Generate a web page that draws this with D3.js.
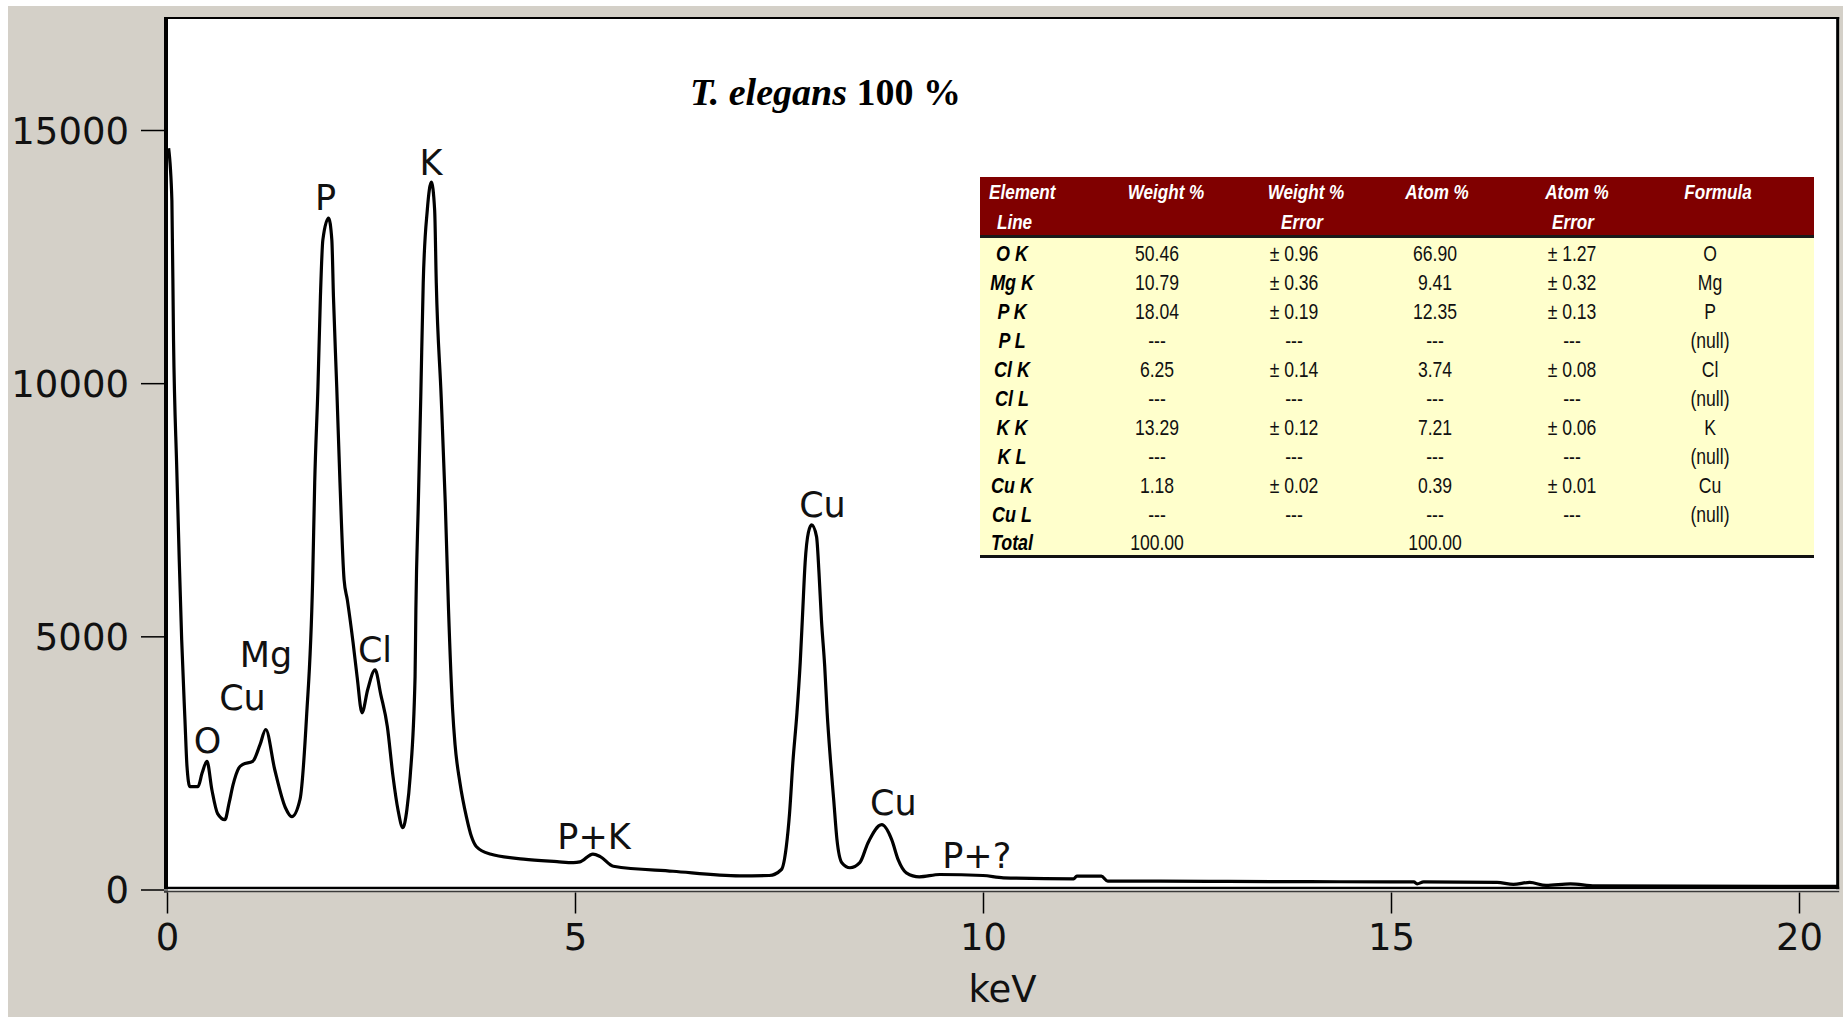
<!DOCTYPE html>
<html>
<head>
<meta charset="utf-8">
<script src="https://cdn.jsdelivr.net/npm/d3@7"></script>
<style>
  html, body { margin: 0; padding: 0; background: #ffffff; }
  svg { display: block; }
</style>
</head>
<body>
<script>
// EDS spectrum: energy (keV) and counts
const energyKeV = [
  0.02, 0.06, 0.08, 0.12, 0.15, 0.18, 0.22, 0.245, 0.28, 0.38, 0.43, 0.49, 0.55, 0.62, 0.71, 0.76,
  0.81, 0.88, 0.93, 1.05, 1.14, 1.21, 1.32, 1.45, 1.53, 1.63, 1.71, 1.785, 1.81, 1.85, 1.88, 1.91,
  1.98, 2.02, 2.04, 2.08, 2.12, 2.17, 2.21, 2.28, 2.33, 2.39, 2.46, 2.55, 2.62, 2.70, 2.77, 2.83,
  2.89, 2.94, 2.98, 3.04, 3.05, 3.08, 3.11, 3.14, 3.19, 3.24, 3.28, 3.30, 3.36, 3.41, 3.45, 3.50,
  3.53, 3.59, 3.67, 3.73, 3.79, 3.96, 4.37, 4.78, 4.98, 5.06, 5.22, 5.31, 5.47, 6.20, 7.02, 7.38,
  7.53, 7.59, 7.63, 7.67, 7.72, 7.76, 7.79, 7.82, 7.86, 7.90, 7.96, 7.99, 8.02, 8.06, 8.09, 8.13,
  8.17, 8.21, 8.27, 8.37, 8.49, 8.59, 8.76, 8.88, 8.96, 9.06, 9.22, 9.47, 10.00, 10.25, 11.11, 11.15,
  11.45, 11.53, 12.17, 13.0, 14.0, 15.0, 15.28, 15.32, 15.4, 16.3, 16.5, 16.7, 16.9, 17.2, 17.5, 20.48
];
const counts = [
  14640, 13600, 10850, 8290, 6510, 4930, 3350, 2430, 2030, 2030, 2300, 2530, 1970, 1500, 1380, 1700,
  2070, 2400, 2470, 2530, 2860, 3160, 2370, 1620, 1440, 1780, 3410, 6120, 8030, 9930, 11700, 12830,
  13260, 12830, 11700, 9930, 8030, 6120, 5720, 4880, 4200, 3490, 3950, 4340, 3850, 3220, 2230, 1580,
  1220, 1580, 2230, 4200, 5530, 7640, 9730, 11980, 13420, 13970, 13420, 11980, 9730, 7640, 5530, 3550,
  2860, 2110, 1430, 1050, 850, 700, 600, 550, 530, 545, 700, 650, 460, 360, 270, 276,
  395, 855, 1520, 2510, 3490, 4480, 5470, 6450, 7050, 7200, 6970, 6260, 5330, 4410, 3490, 2570,
  1780, 990, 530, 430, 530, 920, 1280, 990, 590, 330, 250, 296, 276, 231, 211, 263,
  263, 164, 164, 160, 155, 150, 150, 110, 150, 140, 100, 140, 80, 110, 70, 60
];

// Axis ticks
const yTicks = [0, 5000, 10000, 15000];
const xTicks = [0, 5, 10, 15, 20];

// Peak annotations (text, keV, counts at label baseline)
const peakText = ["O", "Cu", "Mg", "P", "Cl", "K", "P+K", "Cu", "Cu", "P+?"];
const peakKeV = [0.497, 0.925, 1.213, 1.942, 2.549, 3.235, 5.233, 8.033, 8.901, 9.923];
const peakCounts = [2696, 3545, 4394, 13420, 4499, 14111, 790, 7363, 1471, 419];

// Quantification table
const tableHeaderTop = ["Element", "Weight %", "Weight %", "Atom %", "Atom %", "Formula"];
const tableHeaderBottom = ["Line", "", "Error", "", "Error", ""];
const elementLines = ["O K", "Mg K", "P K", "P L", "Cl K", "Cl L", "K K", "K L", "Cu K", "Cu L", "Total"];
const weightPct = ["50.46", "10.79", "18.04", "---", "6.25", "---", "13.29", "---", "1.18", "---", "100.00"];
const weightErr = ["± 0.96", "± 0.36", "± 0.19", "---", "± 0.14", "---", "± 0.12", "---", "± 0.02", "---", ""];
const atomPct = ["66.90", "9.41", "12.35", "---", "3.74", "---", "7.21", "---", "0.39", "---", "100.00"];
const atomErr = ["± 1.27", "± 0.32", "± 0.13", "---", "± 0.08", "---", "± 0.06", "---", "± 0.01", "---", ""];
const formula = ["O", "Mg", "P", "(null)", "Cl", "(null)", "K", "(null)", "Cu", "(null)", ""];

const W = 1843, H = 1017;
const svg = d3.select("body").append("svg").attr("width", W).attr("height", H);

svg.append("rect").attr("width", W).attr("height", H).attr("fill", "#ffffff");
svg.append("rect").attr("x", 8).attr("y", 6).attr("width", W - 8).attr("height", H - 6).attr("fill", "#d4d0c8");

const x = d3.scaleLinear().domain([0, 20]).range([167, 1799]);
const y = d3.scaleLinear().domain([0, 15000]).range([889.5, 130]);
const xMax = 20.48, yMax = 17230;
const pL = x(0), pR = x(xMax), pT = y(yMax), pB = y(0);

// plot area
svg.append("rect").attr("x", pL).attr("y", pT).attr("width", pR - pL).attr("height", pB - pT)
  .attr("fill", "#ffffff");

svg.append("clipPath").attr("id", "plotClip").append("rect")
  .attr("x", pL).attr("y", pT).attr("width", pR - pL).attr("height", pB - 2 - pT);

// spectrum
const spectrum = energyKeV.map((e, i) => [e, counts[i]]);
svg.append("path")
  .datum(spectrum)
  .attr("clip-path", "url(#plotClip)")
  .attr("fill", "none")
  .attr("stroke", "#000")
  .attr("stroke-width", 3.2)
  .attr("stroke-linejoin", "round")
  .attr("d", d3.line().curve(d3.curveMonotoneX).x(d => x(d[0])).y(d => y(d[1])));

// frame
const frame = svg.append("g").attr("stroke", "#000").attr("fill", "none");
frame.append("line").attr("x1", pL - 3).attr("x2", pR + 1).attr("y1", pT + 1).attr("y2", pT + 1).attr("stroke-width", 2);
frame.append("line").attr("x1", pR - 0.5).attr("x2", pR - 0.5).attr("y1", pT).attr("y2", pB).attr("stroke-width", 3);
frame.append("line").attr("x1", pL - 3).attr("x2", pR + 1).attr("y1", pB - 1.5).attr("y2", pB - 1.5).attr("stroke-width", 2.5);
svg.append("line").attr("x1", pL - 3).attr("x2", pR + 1).attr("y1", pB + 0.5).attr("y2", pB + 0.5)
  .attr("stroke", "#ffffff").attr("stroke-width", 1);
svg.append("line").attr("x1", pL - 3).attr("x2", pR + 1).attr("y1", pB + 2).attr("y2", pB + 2)
  .attr("stroke", "#3a3a3a").attr("stroke-width", 1.5);
frame.append("line").attr("x1", pL - 1).attr("x2", pL - 1).attr("y1", pT).attr("y2", pB + 3).attr("stroke-width", 4);

const axisFont = "'DejaVu Sans', Verdana, sans-serif";

// y axis
const yAxis = svg.append("g").attr("transform", `translate(${pL - 3},0)`)
  .call(d3.axisLeft(y).tickValues(yTicks).tickFormat(d3.format("d")).tickSize(23).tickPadding(12));
yAxis.select(".domain").remove();
yAxis.selectAll(".tick line").attr("stroke", "#000").attr("stroke-width", 1.5);
yAxis.selectAll(".tick text").attr("fill", "#111").attr("dy", "0.36em")
  .style("font-family", axisFont).style("font-size", "37px");

// x axis
const xAxis = svg.append("g").attr("transform", `translate(0,${pB + 3})`)
  .call(d3.axisBottom(x).tickValues(xTicks).tickFormat(d3.format("d")).tickSize(21).tickPadding(10));
xAxis.select(".domain").remove();
xAxis.selectAll(".tick line").attr("stroke", "#000").attr("stroke-width", 1.5);
xAxis.selectAll(".tick text").attr("fill", "#111")
  .style("font-family", axisFont).style("font-size", "37px");

svg.append("text").attr("x", (pL + pR) / 2).attr("y", 1002).attr("text-anchor", "middle")
  .style("font-family", axisFont).style("font-size", "37px").attr("fill", "#111").text("keV");

// peak labels
svg.append("g").selectAll("text").data(peakText).join("text")
  .attr("x", (d, i) => x(peakKeV[i]))
  .attr("y", (d, i) => y(peakCounts[i]))
  .attr("text-anchor", "middle")
  .style("font-family", axisFont).style("font-size", "35px").attr("fill", "#111")
  .text(d => d);

// title
const title = svg.append("text").attr("x", 690).attr("y", 105)
  .style("font-family", "'Liberation Serif', 'Times New Roman', serif").style("font-size", "38px")
  .style("font-weight", "bold").attr("fill", "#000");
title.append("tspan").style("font-style", "italic").text("T. elegans");
title.append("tspan").text(" 100 %");

// ---- table ----
const tX0 = 980, tX1 = 1814, tTop = 177, tHeadBottom = 235, tBottom = 558;
const tbl = svg.append("g");
tbl.append("rect").attr("x", tX0).attr("y", tTop).attr("width", tX1 - tX0).attr("height", tHeadBottom - tTop).attr("fill", "#800000");
tbl.append("rect").attr("x", tX0).attr("y", tHeadBottom).attr("width", tX1 - tX0).attr("height", tBottom - tHeadBottom).attr("fill", "#ffffcc");
tbl.append("line").attr("x1", tX0).attr("x2", tX1).attr("y1", tHeadBottom + 1.5).attr("y2", tHeadBottom + 1.5).attr("stroke", "#1a1a1a").attr("stroke-width", 3);
tbl.append("line").attr("x1", tX0).attr("x2", tX1).attr("y1", tBottom - 1.5).attr("y2", tBottom - 1.5).attr("stroke", "#111").attr("stroke-width", 3);

const tFont = "'Liberation Sans Narrow', 'Liberation Sans', Arial, sans-serif";
function measure(str, size, weight, style) {
  const t = svg.append("text").style("font-family", tFont).style("font-size", size + "px")
    .style("font-weight", weight).style("font-style", style).text(str);
  const w = t.node().getComputedTextLength();
  t.remove();
  return w;
}
const sxVal = 44 / measure("50.46", 22, "normal", "normal");
const sxBold = 66.5 / measure("Element", 21, "bold", "italic");

function cell(g, str, cx, cy, anchor, size, bold, fill, sx) {
  g.append("text")
    .attr("transform", `translate(${cx},${cy + size * 0.36}) scale(${sx},1)`)
    .attr("text-anchor", anchor)
    .style("font-family", tFont).style("font-size", size + "px")
    .style("font-weight", bold ? "bold" : "normal").style("font-style", bold ? "italic" : "normal")
    .attr("fill", fill).text(str);
}

const headCx = [null, 1166, 1306, 1437, 1577, 1718];
const headTopY = 191.5, headBotY = 221.5;
tableHeaderTop.forEach((s, i) => {
  if (i === 0) cell(tbl, s, 989, headTopY, "start", 21, true, "#ffffff", sxBold);
  else cell(tbl, s, headCx[i], headTopY, "middle", 21, true, "#ffffff", sxBold);
});
tableHeaderBottom.forEach((s, i) => {
  if (!s) return;
  if (i === 0) cell(tbl, s, 997, headBotY, "start", 21, true, "#ffffff", sxBold);
  else cell(tbl, s, headCx[i] - 4, headBotY, "middle", 21, true, "#ffffff", sxBold);
});

const valueCols = [weightPct, weightErr, atomPct, atomErr, formula];
const valueCx = [1157, 1294, 1435, 1572, 1710];
elementLines.forEach((lbl, r) => {
  const cy = 253.5 + r * 28.9;
  cell(tbl, lbl, 1012, cy, "middle", 22, true, "#000", sxBold);
  valueCols.forEach((col, c) => {
    if (col[r]) cell(tbl, col[r], valueCx[c], cy, "middle", 22, false, "#111", sxVal);
  });
});
</script>
</body>
</html>
